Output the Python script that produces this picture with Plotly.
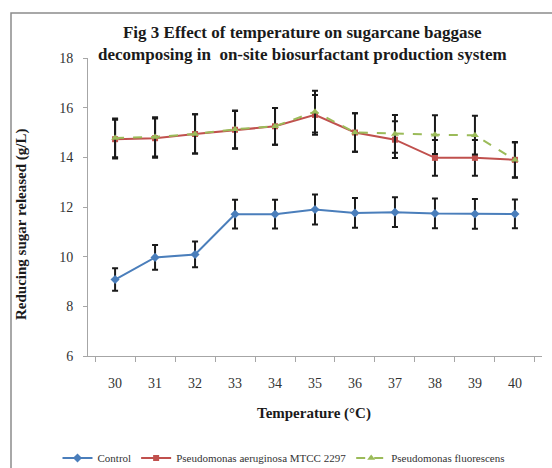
import plotly.graph_objects as go

temperatures = ["30", "31", "32", "33", "34", "35", "36", "37", "38", "39", "40"]
control = [9.08, 9.97, 10.09, 11.71, 11.71, 11.90, 11.76, 11.79, 11.74, 11.72, 11.72]
control_err = [0.45, 0.50, 0.52, 0.58, 0.58, 0.60, 0.60, 0.60, 0.60, 0.60, 0.58]
aeruginosa = [14.73, 14.77, 14.94, 15.11, 15.25, 15.71, 15.00, 14.71, 13.98, 13.98, 13.90]
aeruginosa_err = [0.78, 0.79, 0.79, 0.76, 0.74, 0.80, 0.78, 0.74, 0.72, 0.72, 0.70]
fluorescens = [14.78, 14.82, 14.94, 15.13, 15.25, 15.84, 15.00, 14.94, 14.91, 14.89, 13.90]
fluorescens_err = [0.78, 0.79, 0.79, 0.76, 0.74, 0.84, 0.78, 0.76, 0.78, 0.78, 0.72]

SERIF = "Liberation Serif, Times New Roman, serif"

def err(arr):
    return dict(type="data", array=arr, visible=True, color="#1a1a1a", thickness=2, width=3)

fig = go.Figure()
fig.add_trace(go.Scatter(x=temperatures, y=control, name="Control", mode="lines+markers",
                         line=dict(color="#4a7ebb", width=2),
                         marker=dict(symbol="diamond", size=7, color="#4a7ebb"),
                         error_y=err(control_err)))
fig.add_trace(go.Scatter(x=temperatures, y=aeruginosa, name="Pseudomonas aeruginosa MTCC 2297",
                         mode="lines+markers",
                         line=dict(color="#c0504d", width=2),
                         marker=dict(symbol="square", size=6, color="#c0504d"),
                         error_y=err(aeruginosa_err)))
fig.add_trace(go.Scatter(x=temperatures, y=fluorescens, name="Pseudomonas fluorescens",
                         mode="lines+markers",
                         line=dict(color="#9bbb59", width=2, dash="dash"),
                         marker=dict(symbol="triangle-up", size=7, color="#9bbb59"),
                         error_y=err(fluorescens_err)))

W, H = 552, 468
L, R, T, B = 88, 10, 58, 112
PW, PH = W - L - R, H - T - B

def px(x):
    return (x - L) / PW

def py(y):
    return (H - B - y) / PH

frame_path = "M {x0} {y0} L {x0} {y1} L {x1} {y1}".format(
    x0=px(11), y0=py(H + 10), y1=py(13), x1=px(W + 10))

fig.update_layout(
    width=W, height=H,
    margin=dict(l=L, r=R, t=T, b=B, autoexpand=False),
    paper_bgcolor="white", plot_bgcolor="white",
    showlegend=True,
    legend=dict(orientation="h", xref="container", yref="container",
                x=284 / W, xanchor="center", y=1 - 458 / H, yanchor="middle",
                font=dict(family=SERIF, size=11, color="#333333"),
                itemwidth=30, tracegroupgap=0, bgcolor="rgba(0,0,0,0)"),
    xaxis=dict(type="category", showgrid=False, showline=True, linecolor="#a6a6a6", linewidth=1,
               ticks="outside", tickson="boundaries", ticklen=5, tickcolor="#a6a6a6",
               ticklabelstandoff=14, automargin=False,
               tickfont=dict(family=SERIF, size=14, color="#333333"), zeroline=False),
    yaxis=dict(range=[6, 18], dtick=2, showgrid=False, showline=True, linecolor="#a6a6a6",
               linewidth=1, ticks="outside", ticklen=4, tickcolor="#a6a6a6",
               ticklabelstandoff=7, automargin=False,
               tickfont=dict(family=SERIF, size=14, color="#333333"), zeroline=False),
    shapes=[dict(type="path", xref="paper", yref="paper", path=frame_path,
                 line=dict(color="#8c8c8c", width=1.5), layer="below")],
    annotations=[
        dict(text="<b>Fig 3 Effect of temperature on sugarcane baggase<br>decomposing in  on-site biosurfactant production system</b>",
             xref="paper", yref="paper", x=px(302), y=py(44),
             xanchor="center", yanchor="middle", showarrow=False,
             font=dict(family=SERIF, size=17, color="#1a1a1a")),
        dict(text="<b>Temperature (°C)</b>", xref="paper", yref="paper",
             x=px(314), y=py(413), xanchor="center", yanchor="middle",
             showarrow=False, font=dict(family=SERIF, size=15, color="#1a1a1a")),
        dict(text="<b>Reducing sugar released (g/L)</b>", xref="paper", yref="paper",
             x=px(21), y=py(224), xanchor="center", yanchor="middle",
             textangle=-90, showarrow=False, font=dict(family=SERIF, size=15, color="#1a1a1a")),
    ],
)

fig.write_html("out.html", config={"displayModeBar": False},
               post_script="document.body.style.margin='0';document.body.style.overflow='hidden';")
